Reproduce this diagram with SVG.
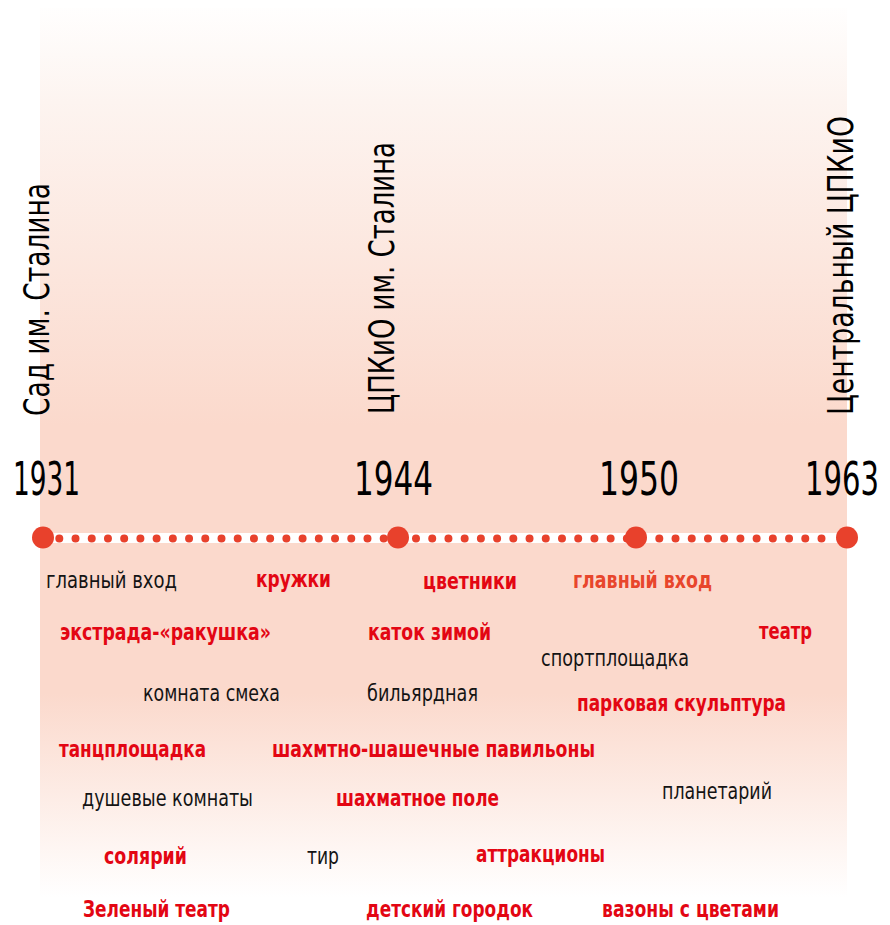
<svg xmlns="http://www.w3.org/2000/svg" width="890" height="925" viewBox="0 0 890 925">
<defs>
<linearGradient id="bg" x1="0" y1="0" x2="0" y2="925" gradientUnits="userSpaceOnUse">
<stop offset="0" stop-color="#ffffff"/>
<stop offset="0.11" stop-color="#fdf4f0"/>
<stop offset="0.46" stop-color="#fbd9cc"/>
<stop offset="0.75" stop-color="#fbd9cc"/>
<stop offset="0.97" stop-color="#ffffff"/>
</linearGradient>
<style>
.yr{font-family:"DejaVu Sans Condensed","Liberation Sans Narrow","DejaVu Sans",sans-serif;font-stretch:condensed;font-size:46px;fill:#000}
.vt{font-family:"DejaVu Sans Condensed","Liberation Sans Narrow","DejaVu Sans",sans-serif;font-stretch:condensed;font-size:36px;fill:#000}
.rg{font-family:"DejaVu Sans Condensed","Liberation Sans Narrow","DejaVu Sans",sans-serif;font-stretch:condensed;font-size:23px;fill:#141414}
.bd{font-family:"DejaVu Sans Condensed","Liberation Sans Narrow","DejaVu Sans",sans-serif;font-stretch:condensed;font-size:23.5px;font-weight:bold;fill:#e30613}
.or{fill:#e8462c}
.big{fill:#e8412c}
.dots{stroke:#e8412c;stroke-width:8;stroke-linecap:round;stroke-dasharray:0 16.22;fill:none}
</style>
</defs>
<rect x="40" y="8" width="807" height="917" fill="url(#bg)"/>
<g id="connectors">
<rect x="43" y="533" width="804" height="10" fill="#ffffff"/>
<line class="dots" x1="59.3" y1="538.5" x2="384" y2="538.5"/>
<line class="dots" x1="416" y1="538.5" x2="628" y2="538.5"/>
<line class="dots" x1="659.3" y1="538.5" x2="823" y2="538.5"/>
</g>
<g id="node-1931">
<circle class="big" cx="43" cy="537.5" r="11"/>
<text class="yr" x="13" y="495" textLength="67" lengthAdjust="spacingAndGlyphs">1931</text>
<text class="vt" transform="translate(49,416) rotate(-90)" textLength="233" lengthAdjust="spacingAndGlyphs">Сад им. Сталина</text>
</g>
<g id="node-1944">
<circle class="big" cx="398" cy="537.5" r="11"/>
<text class="yr" x="354" y="495" textLength="79" lengthAdjust="spacingAndGlyphs">1944</text>
<text class="vt" transform="translate(394,414) rotate(-90)" textLength="272" lengthAdjust="spacingAndGlyphs">ЦПКиО им. Сталина</text>
</g>
<g id="node-1950">
<circle class="big" cx="636" cy="537.5" r="11"/>
<text class="yr" x="599" y="495" textLength="80" lengthAdjust="spacingAndGlyphs">1950</text>
</g>
<g id="node-1963">
<circle class="big" cx="847" cy="537.5" r="11"/>
<text class="yr" x="805" y="495" textLength="74" lengthAdjust="spacingAndGlyphs">1963</text>
<text class="vt" transform="translate(853,415) rotate(-90)" textLength="299" lengthAdjust="spacingAndGlyphs">Центральный ЦПКиО</text>
</g>
<g id="labels">
<text class="rg" x="46" y="588" textLength="131" lengthAdjust="spacingAndGlyphs">главный вход</text>
<text class="bd" x="256" y="587" textLength="75" lengthAdjust="spacingAndGlyphs">кружки</text>
<text class="bd" x="423" y="589" textLength="94" lengthAdjust="spacingAndGlyphs">цветники</text>
<text class="bd or" x="573" y="588" textLength="139" lengthAdjust="spacingAndGlyphs">главный вход</text>
<text class="bd" x="60" y="640" textLength="211" lengthAdjust="spacingAndGlyphs">экстрада-«ракушка»</text>
<text class="bd" x="368" y="640" textLength="123" lengthAdjust="spacingAndGlyphs">каток зимой</text>
<text class="bd" x="759" y="639" textLength="53" lengthAdjust="spacingAndGlyphs">театр</text>
<text class="rg" x="541" y="666" textLength="148" lengthAdjust="spacingAndGlyphs">спортплощадка</text>
<text class="rg" x="143" y="701" textLength="137" lengthAdjust="spacingAndGlyphs">комната смеха</text>
<text class="rg" x="367" y="701" textLength="111" lengthAdjust="spacingAndGlyphs">бильярдная</text>
<text class="bd" x="577" y="711" textLength="209" lengthAdjust="spacingAndGlyphs">парковая скульптура</text>
<text class="bd" x="59" y="757" textLength="147" lengthAdjust="spacingAndGlyphs">танцплощадка</text>
<text class="bd" x="272" y="757" textLength="323" lengthAdjust="spacingAndGlyphs">шахмтно-шашечные павильоны</text>
<text class="rg" x="82" y="806" textLength="171" lengthAdjust="spacingAndGlyphs">душевые комнаты</text>
<text class="bd" x="336" y="806" textLength="163" lengthAdjust="spacingAndGlyphs">шахматное поле</text>
<text class="rg" x="662" y="799" textLength="110" lengthAdjust="spacingAndGlyphs">планетарий</text>
<text class="bd" x="104" y="864" textLength="83" lengthAdjust="spacingAndGlyphs">солярий</text>
<text class="rg" x="307" y="864" textLength="32" lengthAdjust="spacingAndGlyphs">тир</text>
<text class="bd" x="476" y="862" textLength="129" lengthAdjust="spacingAndGlyphs">аттракционы</text>
<text class="bd" x="83" y="917" textLength="147" lengthAdjust="spacingAndGlyphs">Зеленый театр</text>
<text class="bd" x="366" y="917" textLength="167" lengthAdjust="spacingAndGlyphs">детский городок</text>
<text class="bd" x="602" y="917" textLength="177" lengthAdjust="spacingAndGlyphs">вазоны с цветами</text>
</g>
</svg>
